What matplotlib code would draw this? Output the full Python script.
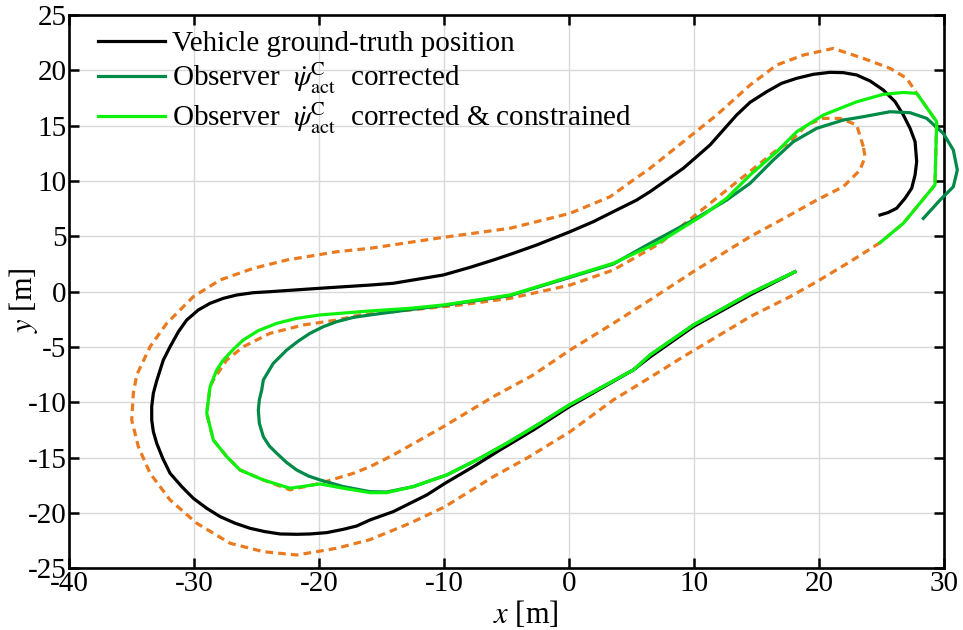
import matplotlib
matplotlib.use("Agg")
import matplotlib.pyplot as plt

plt.rcParams["font.family"] = ["Liberation Serif", "DejaVu Serif"]
plt.rcParams["mathtext.fontset"] = "stix"

# Vehicle ground-truth trajectory [m]
truth_x = [18.05, 14.46, 9.92, 6.46, 5.12, 0.0, -2.87, -5.54, -7.68, -9.94, -11.41,
           -14.08, -15.94, -17.01, -18.08, -19.41, -20.74, -21.81, -23.14, -24.34,
           -25.54, -26.74, -27.94, -29.01, -30.08, -31.01, -31.94, -32.53, -33.01,
           -33.28, -33.41, -33.41, -33.28, -33.01, -32.48, -31.94, -31.27, -30.61,
           -29.68, -28.74, -27.68, -26.61, -25.28, -23.94, -19.94, -15.94, -14.08,
           -10.08, -7.94, -6.08, -4.48, -2.61, 0.06, 1.93, 3.52, 5.39, 6.46, 7.79,
           9.12, 10.19, 11.26, 12.32, 13.39, 14.46, 15.79, 16.99, 18.19, 19.52,
           20.86, 21.92, 22.99, 24.06, 25.12, 26.06, 26.72, 27.26, 27.66, 27.79,
           27.66, 27.39, 26.86, 26.19, 25.50, 24.86]
truth_y = [1.80, -0.30, -3.16, -5.90, -7.07, -10.39, -12.49, -14.30, -15.81, -17.31,
           -18.37, -19.87, -20.62, -21.17, -21.47, -21.77, -21.89, -21.92, -21.89,
           -21.68, -21.38, -20.92, -20.32, -19.57, -18.67, -17.61, -16.41, -15.05,
           -13.70, -12.64, -11.59, -10.38, -9.18, -8.05, -6.17, -4.97, -3.61, -2.56,
           -1.65, -1.05, -0.60, -0.30, -0.09, 0.00, 0.31, 0.60, 0.76, 1.51, 2.20,
           2.86, 3.47, 4.22, 5.42, 6.33, 7.23, 8.28, 9.04, 10.09, 11.15, 12.20,
           13.26, 14.61, 15.97, 17.11, 18.07, 18.83, 19.28, 19.64, 19.82, 19.79,
           19.58, 19.04, 18.22, 17.17, 15.97, 14.76, 13.56, 11.75, 10.55, 9.34,
           8.44, 7.54, 7.15, 6.93]

# Observer, corrected yaw rate
corr_x = [18.05, 14.46, 9.92, 6.46, 5.12, 0.0, -2.34, -5.01, -7.41, -9.81, -12.48,
          -14.61, -15.94, -18.08, -19.94, -20.88, -21.81, -22.61, -23.41, -24.00,
          -24.48, -24.80, -24.88, -24.80, -24.61, -24.48, -24.08, -23.68, -23.14,
          -22.61, -21.67, -20.74, -19.68, -18.61, -17.27, -15.94, -12.74, -10.08,
          -4.74, 0.06, 3.52, 6.46, 9.92, 12.59, 14.46, 16.32, 17.92, 19.79, 21.92,
          23.52, 25.66, 27.26, 28.59, 29.92, 30.72, 31.04, 30.72, 29.66, 28.32]
corr_y = [1.80, -0.15, -3.01, -5.72, -7.07, -10.23, -11.89, -13.70, -15.20, -16.56,
          -17.61, -18.10, -18.07, -17.61, -17.01, -16.65, -16.11, -15.44, -14.60,
          -13.94, -13.10, -11.89, -10.69, -9.78, -8.88, -7.98, -7.22, -6.47, -5.87,
          -5.27, -4.45, -3.76, -3.16, -2.71, -2.32, -2.10, -1.62, -1.25, -0.35,
          1.30, 2.50, 4.37, 6.48, 8.28, 9.79, 11.90, 13.55, 14.76, 15.51, 15.81,
          16.26, 16.17, 15.66, 14.30, 12.80, 10.99, 9.48, 8.28, 6.62]

# Observer, corrected yaw rate with track constraint
cons_x = [18.05, 14.46, 9.92, 6.46, 5.12, 0.0, -2.34, -5.01, -7.41, -9.81, -12.48,
          -14.61, -15.94, -18.08, -19.94, -22.34, -24.48, -26.34, -27.41, -28.48,
          -29.01, -28.74, -28.21, -27.68, -26.88, -26.08, -24.88, -23.41, -21.81,
          -19.94, -15.94, -12.74, -10.08, -4.74, 0.06, 3.52, 7.26, 10.72, 12.59,
          14.46, 16.59, 18.19, 20.32, 22.99, 25.12, 26.72, 27.79, 29.39, 29.25,
          26.72, 24.86]
cons_y = [1.80, -0.15, -3.01, -5.72, -7.07, -10.23, -11.89, -13.70, -15.20, -16.56,
          -17.61, -18.16, -18.16, -17.76, -17.37, -17.76, -17.01, -16.11, -14.90,
          -13.40, -10.98, -8.58, -7.07, -6.17, -5.21, -4.36, -3.52, -2.86, -2.41,
          -2.10, -1.74, -1.50, -1.20, -0.30, 1.36, 2.57, 4.52, 6.93, 8.44, 10.54,
          12.65, 14.45, 15.96, 17.16, 17.83, 18.00, 17.92, 15.36, 9.64, 6.18, 4.43]

# Outer track boundary
outer_x = [24.86, 22.46, 19.79, 17.66, 14.46, 11.79, 9.12, 6.46, 3.52, 0.06, -3.41,
           -6.08, -9.94, -12.74, -15.94, -18.61, -21.81, -24.48, -27.14, -29.81,
           -31.94, -33.54, -34.48, -35.01, -34.88, -34.60, -33.54, -32.21, -30.08,
           -27.94, -25.28, -22.61, -18.61, -15.94, -10.08, -4.74, 0.06, 3.26, 5.12,
           6.46, 9.12, 11.79, 14.46, 16.59, 18.72, 21.12, 23.52, 25.66, 26.99,
           27.79, 29.39, 29.25, 26.72, 24.86]
outer_y = [4.43, 2.71, 0.90, -0.45, -2.26, -4.07, -5.87, -7.75, -9.78, -12.65,
           -15.05, -16.71, -19.42, -20.92, -22.40, -23.18, -23.79, -23.49, -22.73,
           -20.92, -18.82, -16.41, -14.00, -11.59, -9.18, -7.50, -4.97, -2.86,
           -0.45, 1.06, 2.11, 2.86, 3.61, 3.92, 4.91, 5.73, 7.08, 8.58, 10.09,
           11.15, 13.55, 15.96, 18.67, 20.48, 21.38, 21.98, 21.08, 20.18, 19.28,
           17.93, 15.36, 9.64, 6.18, 4.43]

# Inner track boundary
inner_x = [23.52, 22.99, 21.66, 20.32, 18.99, 17.66, 16.59, 7.26, 3.52, 0.06,
           -4.74, -8.74, -12.74, -16.74, -18.61, -21.28, -23.94, -26.08, -27.41,
           -28.48, -28.74, -29.01, -28.48, -27.41, -26.34, -24.48, -22.34, -19.94,
           -17.28, -15.94, -14.08, -10.08, -6.08, -3.00, 0.06, 3.52, 6.86, 9.92,
           14.46, 17.66, 19.79, 21.92, 23.26, 23.66, 23.52]
inner_y = [13.10, 15.06, 15.66, 15.66, 15.06, 13.55, 12.80, 4.37, 1.96, 0.60,
           -0.60, -1.20, -1.65, -2.10, -2.56, -3.01, -3.76, -4.97, -6.17, -7.98,
           -8.58, -10.98, -13.40, -14.90, -16.11, -17.01, -17.91, -17.31, -16.41,
           -15.81, -14.75, -12.20, -9.48, -7.60, -5.27, -2.86, -0.45, 1.81, 4.97,
           6.93, 8.28, 9.49, 10.99, 12.20, 13.10]

x_ticks = [-40, -30, -20, -10, 0, 10, 20, 30]
y_ticks = [-25, -20, -15, -10, -5, 0, 5, 10, 15, 20, 25]

ORANGE = "#ea7a1f"
DARK_GREEN = "#008a48"
LIGHT_GREEN = "#0df20d"

fig = plt.figure(figsize=(9.63, 6.30), dpi=100)
ax = fig.add_axes([0.0720, 0.0978, 0.9086, 0.8784])

dash = (0, (2.4, 1.6))
ax.plot(outer_x, outer_y, color=ORANGE, lw=2.3, linestyle=dash, zorder=2)
ax.plot(inner_x, inner_y, color=ORANGE, lw=2.3, linestyle=dash, zorder=2)

ax.plot(truth_x, truth_y, color="black", lw=2.3, zorder=3,
        solid_joinstyle="round", label="Vehicle ground-truth position")
ax.plot(corr_x, corr_y, color=DARK_GREEN, lw=2.3, zorder=4, clip_on=False,
        solid_joinstyle="round",
        label=r"Observer  $\dot{\psi}^{\mathrm{C}}_{\mathrm{act}}$  corrected")
ax.plot(cons_x, cons_y, color=LIGHT_GREEN, lw=2.3, zorder=5,
        solid_joinstyle="round",
        label=r"Observer  $\dot{\psi}^{\mathrm{C}}_{\mathrm{act}}$  corrected & constrained")

ax.set_xlim(-40, 30)
ax.set_ylim(-25, 25)
ax.set_xticks(x_ticks)
ax.set_yticks(y_ticks)
ax.set_xticklabels([str(v) for v in x_ticks])
ax.set_yticklabels([str(v) for v in y_ticks])
ax.grid(True, color="#d9d9d9", lw=1.0, zorder=0)
ax.set_axisbelow(True)
ax.tick_params(direction="in", length=7, width=1.8, top=True, right=True,
               labelsize=21, pad=2)
for s in ax.spines.values():
    s.set_linewidth(1.9)

ax.set_xlabel(r"$x$ [m]", fontsize=22)
ax.set_ylabel(r"$y$ [m]", fontsize=22)
ax.xaxis.set_label_coords(0.522, -0.056)
ax.yaxis.set_label_coords(-0.033, 0.485)

leg = ax.legend(loc="upper left", bbox_to_anchor=(0.0328, 0.972), frameon=False,
                fontsize=21, handlelength=2.3, handletextpad=0.25,
                labelspacing=0.14, borderaxespad=0.0, borderpad=0.0)

fig.savefig("out.png", dpi=100)
